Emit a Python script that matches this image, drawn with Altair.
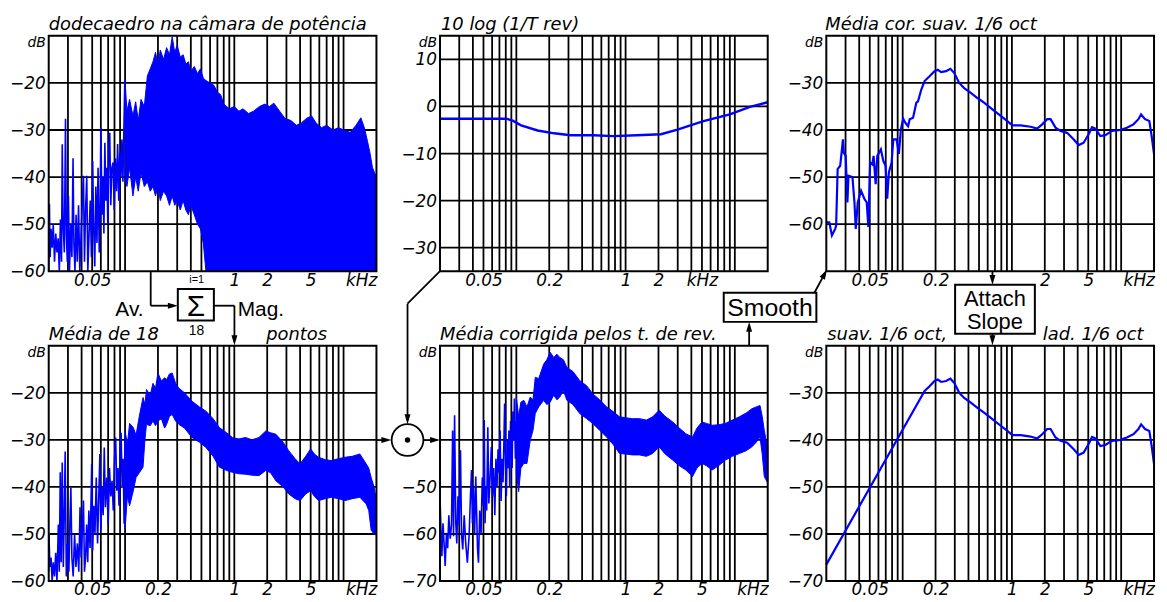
import math
import altair as alt
import pandas as pd

BLUE = "#0000ff"
BLACK = "#000000"
FONT = "DejaVu Sans"
DFONT = "Liberation Sans"
H = 237
W = 330
XMAX = 20.0
XMAX_WIDE = 20.0 * 10 ** (5 / 110)
LBL = 17

# ---------------- data (kHz, dB) ----------------
GRID_KHZ = [0.03, 0.04, 0.05, 0.06, 0.07, 0.08, 0.09, 0.1, 0.2, 0.3, 0.4, 0.5,
            0.6, 0.7, 0.8, 0.9, 1, 2, 3, 4, 5, 6, 7, 8, 9, 10]

# panel 1: dodecaedro na camara de potencia
P1_LOW_F = [0.0200, 0.0203, 0.0206, 0.0210, 0.0215, 0.0220, 0.0226, 0.0232, 0.0238, 0.0244,
            0.0250, 0.0256, 0.0262, 0.0266, 0.0271, 0.0278, 0.0285, 0.0290, 0.0296, 0.0303,
            0.0310, 0.0318, 0.0326, 0.0334, 0.0340, 0.0348, 0.0356, 0.0365, 0.0375, 0.0385,
            0.0396, 0.0408, 0.0416, 0.0425, 0.0435, 0.0446, 0.0456, 0.0468, 0.0480, 0.0492,
            0.0505, 0.0515, 0.0528, 0.0540, 0.0553, 0.0566, 0.0580, 0.0592, 0.0601, 0.0614,
            0.0627, 0.0640, 0.0653, 0.0667, 0.0681, 0.0695, 0.0710, 0.0724, 0.0740, 0.0757,
            0.0777, 0.0795, 0.0815, 0.0835, 0.0855, 0.0875, 0.0895, 0.0915, 0.0935, 0.0955,
            0.0975, 0.0995]
P1_LOW_DB = [-60, -45.7, -57, -51, -55, -50, -58, -52, -56, -53,
             -60, -49, -58, -33, -50, -56, -27.6, -52, -58, -44,
             -60, -50, -57, -36, -54, -60, -48, -58, -46, -60,
             -52, -44, -39.7, -58, -47, -39.7, -60, -52, -45, -57,
             -36.6, -50, -59, -42, -54, -38, -56, -46, -29.5, -48,
             -40, -52, -32.7, -45, -38, -50, -34, -30.6, -46, -38,
             -36.9, -47, -36, -43, -33, -45, -34.8, -40, -32, -41,
             -30, -19.3]
P1_BAND_F = [0.100, 0.104, 0.110, 0.118, 0.125, 0.132, 0.140, 0.150, 0.160, 0.170,
             0.180, 0.190, 0.200, 0.210, 0.225, 0.240, 0.255, 0.270, 0.285, 0.300,
             0.320, 0.340, 0.360, 0.380, 0.400, 0.430, 0.460, 0.490, 0.520, 0.550,
             0.600, 0.650, 0.700, 0.750, 0.800, 0.850, 0.900, 1.000, 1.100, 1.200,
             1.350, 1.500, 1.700, 1.900, 2.100, 2.300, 2.600, 2.900, 3.300, 3.700,
             4.100, 4.600, 5.100, 5.600, 6.300, 7.000, 8.000, 9.000, 10.00, 11.50,
             13.00, 14.40, 15.50, 16.60, 17.50, 18.40, 19.20, 20.00]
P1_BAND_HI = [-19.5, -26, -23.5, -27, -24, -28, -23.5, -25, -18.5, -17,
              -15.5, -13.5, -16, -13, -15, -12.5, -14, -10.2, -13.5, -12,
              -14.5, -14, -16, -15.5, -17.5, -16.5, -18, -17, -19, -19.5,
              -20, -20.5, -22, -22.5, -24.5, -25, -25.5, -25, -26, -25.5,
              -26.5, -26, -25, -24.5, -25, -24.3, -26, -27.5, -28, -29,
              -28.5, -27.5, -27, -28.5, -29.5, -29, -30, -29.5, -30, -30.5,
              -29, -27.4, -29.5, -32.5, -35, -38, -39, -40]
P1_BAND_LO = [-40, -42, -38, -44, -40, -43, -39, -42, -41, -43,
              -42, -44, -42, -45, -43, -44, -46, -44, -46, -45,
              -47, -45, -47, -48, -46, -48, -50, -51, -54, -60,
              -60, -60, -60, -60, -60, -60, -60, -60, -60, -60,
              -60, -60, -60, -60, -60, -60, -60, -60, -60, -60,
              -60, -60, -60, -60, -60, -60, -60, -60, -60, -60,
              -60, -60, -60, -60, -60, -60, -60, -60]

# panel 2: 10 log (1/T rev)
P2_F = [0.02, 0.0808, 0.0926, 0.1105, 0.1565, 0.2218, 0.3142, 0.5082, 0.7755,
        1.2659, 2.1064, 2.9822, 5.1626, 9.0, 13.75, 20.0]
P2_DB = [-2.6, -2.6, -3.0, -4.0, -5.1, -5.7, -6.1, -6.1, -6.3,
         -6.1, -5.9, -4.9, -3.1, -1.7, -0.1, 0.9]

# panel 3: media corrigida suavizada 1/6 oct
P3_F = [0.0203, 0.0213, 0.0225, 0.0241, 0.0246, 0.0254, 0.0268, 0.0278, 0.0284, 0.0289,
        0.0301, 0.0312, 0.0319, 0.0347, 0.0362, 0.0372, 0.0388, 0.0416, 0.0446, 0.0469,
        0.0485, 0.0503, 0.0527, 0.0542, 0.0566, 0.0586, 0.0632, 0.0664, 0.0697, 0.0722,
        0.0748, 0.0792, 0.0821, 0.0880, 0.0923, 0.0962, 0.1011, 0.1060, 0.1121, 0.1160,
        0.1245, 0.1334, 0.1382, 0.1481, 0.1588, 0.1763, 0.1957, 0.2098, 0.2250, 0.2497,
        0.2733, 0.2969, 0.3295, 0.3657, 0.4205, 0.4835, 0.5560, 0.6628, 0.7902, 0.9084,
        1.0085, 1.2012, 1.4826, 1.7046, 1.8941, 2.1047, 2.2596, 2.5089, 2.7856, 3.2025,
        3.6818, 4.0884, 4.5398, 5.0411, 5.4120, 5.8103, 6.4515, 7.1627, 8.2356, 9.8092,
        11.276, 12.963, 14.394, 15.221, 16.551, 18.115, 19.021, 20.0]
P3_DB = [-59.6, -59.6, -62.4, -61, -60.3, -48.3, -47.6, -44.1, -42, -44.8,
         -45.5, -55.4, -49.7, -50, -55.4, -61, -55.4, -52.9, -54.6, -55.4,
         -60.6, -46.9, -47.3, -45.5, -51.5, -45.5, -44.1, -46.5, -47.6, -54.6,
         -49, -46.9, -42, -42, -45.1, -39.9, -37.6, -38.5, -39.2, -37.7,
         -37.4, -34.2, -33.9, -31.4, -29.6, -28.6, -27.5, -27.2, -27.7, -27.5,
         -27, -27.9, -30, -31.1, -32.1, -33.2, -34.2, -35.6, -37, -38.1,
         -39, -39, -39.3, -39.7, -38.8, -37.7, -37.7, -39.5, -40.2, -40.6,
         -42, -43.2, -42.7, -40.9, -39.4, -39.7, -41.3, -41.1, -40.2, -40,
         -39.5, -38.8, -37.7, -36.7, -37.7, -38.1, -41.3, -45.1]

# panel 4: media de 18 pontos
P4_LOW_F = [0.0200, 0.0201, 0.0205, 0.0210, 0.0215, 0.0220, 0.0226, 0.0232, 0.0238, 0.0245,
            0.0250, 0.0255, 0.0260, 0.0266, 0.0272, 0.0278, 0.0283, 0.0290, 0.0298, 0.0306,
            0.0313, 0.0319, 0.0326, 0.0335, 0.0345, 0.0355, 0.0366, 0.0377, 0.0387, 0.0396,
            0.0405, 0.0416, 0.0425, 0.0435, 0.0445, 0.0455, 0.0466, 0.0478, 0.0490, 0.0495,
            0.0505, 0.0518, 0.0530, 0.0545, 0.0560, 0.0575, 0.0588, 0.0600, 0.0615, 0.0630,
            0.0645, 0.0660, 0.0680, 0.0700, 0.0720, 0.0740, 0.0760, 0.0780, 0.0800, 0.0820,
            0.0840, 0.0860, 0.0880, 0.0900, 0.0920, 0.0940, 0.0960, 0.0980, 0.1000]
P4_LOW_DB = [-58, -50, -57, -55, -60, -56, -59, -54, -60, -48,
             -58, -36.9, -56, -34.8, -57, -45, -32.5, -59, -52, -58,
             -47, -40.1, -55, -59, -50, -57, -52, -58, -44.3, -55,
             -50, -42.9, -58, -54.9, -48, -56, -45, -53, -41, -35.1,
             -53.5, -44, -50, -38, -52, -42, -33, -49.2, -40, -46,
             -31.6, -44.3, -38, -48, -36, -42, -38.7, -45, -34, -29.5,
             -40.8, -36, -44, -32, -28.5, -40, -34, -47.8, -30]
P4_BAND_F = [0.100, 0.105, 0.110, 0.119, 0.126, 0.135, 0.146, 0.152, 0.157, 0.170,
             0.180, 0.190, 0.200, 0.215, 0.230, 0.240, 0.255, 0.270, 0.290, 0.310,
             0.350, 0.410, 0.480, 0.550, 0.640, 0.730, 0.850, 0.960, 1.100, 1.270,
             1.450, 1.680, 1.940, 2.150, 2.400, 2.800, 3.150, 3.600, 4.000, 4.500,
             5.000, 5.400, 5.900, 6.800, 7.700, 9.000, 10.30, 12.00, 14.10, 16.10,
             17.00, 17.90, 19.00, 20.00]
P4_BAND_HI = [-28, -31, -26.5, -27.4, -29, -25, -21, -22.5, -19.3, -20.5,
              -18, -19, -15.8, -17.5, -16.8, -17.2, -16, -15.8, -18, -19,
              -20, -21.8, -23, -23.9, -25.5, -27.4, -28.5, -29.5, -29.8, -29.5,
              -30, -29.5, -28.1, -28.5, -28.8, -30.5, -32.3, -34, -35.1, -33.5,
              -31.9, -33, -33.7, -34.2, -34.4, -34, -33.7, -33.5, -33, -35.1,
              -36, -38, -40, -42.9]
P4_BAND_LO = [-49, -42, -44, -40.8, -38, -37, -35.8, -30, -26.7, -27,
              -26, -27, -26, -25.5, -27.5, -26.7, -25, -24.6, -26, -26.7,
              -27.5, -29.5, -30.5, -31.6, -33.5, -35.8, -36.5, -36.9, -37.2, -37.3,
              -37.5, -37.6, -36.5, -37, -38.7, -40, -41.5, -42.5, -42.9, -41.5,
              -40.8, -42, -42.9, -42.5, -42.2, -42.5, -42.9, -42.5, -42.2, -43.6,
              -45, -49.2, -50, -49.9]

# panel 5: media corrigida pelos t. de rev.
P5_LOW_F = [0.0200, 0.0204, 0.0208, 0.0213, 0.0218, 0.0223, 0.0229, 0.0235, 0.0241, 0.0248,
            0.0255, 0.0261, 0.0266, 0.0272, 0.0279, 0.0285, 0.0292, 0.0300, 0.0308, 0.0315,
            0.0323, 0.0333, 0.0344, 0.0356, 0.0370, 0.0380, 0.0389, 0.0396, 0.0405, 0.0415,
            0.0425, 0.0441, 0.0450, 0.0462, 0.0475, 0.0488, 0.0500, 0.0508, 0.0517, 0.0525,
            0.0535, 0.0548, 0.0560, 0.0575, 0.0590, 0.0605, 0.0620, 0.0635, 0.0650, 0.0665,
            0.0680, 0.0695, 0.0710, 0.0725, 0.0740, 0.0755, 0.0770, 0.0781, 0.0795, 0.0810,
            0.0825, 0.0840, 0.0855, 0.0870, 0.0885, 0.0900, 0.0915, 0.0930, 0.0945, 0.0960,
            0.0980, 0.1000]
P5_LOW_DB = [-52, -59, -64.7, -57.7, -62, -66.8, -60, -63, -56, -61,
             -58, -38, -60.5, -34.8, -57.7, -62, -52, -58, -42.2, -60,
             -63.3, -56, -62, -66.1, -60, -52, -46.4, -57.7, -50, -60,
             -47.8, -63, -66.1, -55, -60, -48, -54, -35.8, -57.7, -50,
             -55, -37.3, -53.5, -48, -41.5, -52, -46, -56, -44, -50,
             -42, -47, -38, -53, -44, -49, -40, -32.3, -45, -52,
             -40, -46, -38, -50, -36, -42, -46, -34, -40, -31.2,
             -44, -36]
P5_BAND_F = [0.100, 0.105, 0.110, 0.117, 0.125, 0.134, 0.142, 0.149, 0.160, 0.178,
             0.190, 0.204, 0.220, 0.235, 0.250, 0.270, 0.290, 0.330, 0.380, 0.440,
             0.500, 0.580, 0.670, 0.770, 0.880, 1.000, 1.150, 1.340, 1.550, 1.770,
             2.030, 2.300, 2.700, 3.100, 3.560, 4.100, 4.500, 5.000, 5.500, 6.200,
             7.100, 8.200, 9.500, 11.00, 12.70, 14.30, 15.70, 17.00, 17.80, 18.60,
             19.30, 20.00]
P5_BAND_HI = [-31, -35, -32, -31.6, -33, -30.9, -31.5, -26.7, -27, -23.9,
              -23, -21.4, -22.5, -21.8, -22.5, -23, -24.6, -25.5, -27.4, -28.5,
              -30.2, -31.5, -33, -34, -35.1, -35.3, -35.5, -35.5, -35.8, -35.1,
              -33.7, -35, -36.2, -37.5, -38.7, -39.4, -37.5, -36.2, -36.5, -36.9,
              -36.8, -36.5, -35.8, -35.1, -34.3, -33.4, -33, -32.7, -35, -38,
              -40, -41.5]
P5_BAND_LO = [-47, -51, -46, -45, -45, -40.1, -38, -34.4, -33, -31.6,
              -32.5, -32, -30.5, -31.5, -30.9, -29.5, -31.6, -32.5, -34.4, -35.5,
              -36.5, -38, -39.4, -41, -42.9, -43, -43.2, -43.2, -43.5, -42.9,
              -41.5, -43, -44.3, -45.5, -46.4, -47.8, -46, -45, -45.5, -46.4,
              -45.5, -44.3, -43.5, -42.9, -42.3, -41.5, -40.5, -39.4, -43, -47.8,
              -48.5, -49.2]

# panel 6: attached slope + smoothed curve
P6_SLOPE_F = [0.02, 0.1588]
P6_SLOPE_DB = [-66.5, -29.6]

ONE = pd.DataFrame({"k": [0]})


def table(**cols):
    n = min(len(v) for v in cols.values())
    return pd.DataFrame({k: list(v)[:n] for k, v in cols.items()})


def dbtxt(v):
    return ("\u2212" + str(abs(v))) if v < 0 else str(v)


def text(t, x, y, size, font=FONT, style="normal", align="left", baseline="alphabetic", color=BLACK):
    return alt.Chart(ONE).mark_text(
        text=t, font=font, fontSize=size, fontStyle=style, align=align,
        baseline=baseline, color=color
    ).encode(x=alt.value(x), y=alt.value(y))


def seg(x1, y1, x2, y2, color=BLACK, sw=1.8):
    return alt.Chart(ONE).mark_rule(color=color, strokeWidth=sw).encode(
        x=alt.value(x1), y=alt.value(y1), x2=alt.value(x2), y2=alt.value(y2))


def head(tx, ty, ang, L=5):
    a = math.radians(ang)
    cx = tx - L * math.sin(a)
    cy = ty + L * math.cos(a)
    return alt.Chart(ONE).mark_point(
        shape="M0,-1L-0.6,1L0.6,1Z", filled=True, color=BLACK, opacity=1,
        size=(2 * L) ** 2, angle=ang
    ).encode(x=alt.value(cx), y=alt.value(cy))


def box(x1, y1, x2, y2):
    return alt.Chart(ONE).mark_rect(fill="white", stroke=BLACK, strokeWidth=2).encode(
        x=alt.value(x1), x2=alt.value(x2), y=alt.value(y1), y2=alt.value(y2))


def panel(width, xmax, ydom, ylabels, hgrid, xlabels, khz_at, titles, data_fn, extra=None):
    xs = alt.Scale(type="log", domain=[0.02, xmax], nice=False)
    ys = alt.Scale(domain=ydom, nice=False, zero=False)
    xaxis = alt.Axis(
        values=xlabels, title=None, ticks=False, domain=False, grid=False,
        labelExpr="datum.value == %s ? 'kHz' : '' + datum.value" % repr(khz_at),
        labelFont=FONT, labelFontSize=LBL, labelFontStyle="italic", labelColor=BLACK,
        labelPadding=1, labelOverlap=False, labelFlush=False,
    )
    X = lambda fld: alt.X(fld, type="quantitative", scale=xs, axis=xaxis)
    Y = lambda fld: alt.Y(fld, type="quantitative", scale=ys, axis=None)
    vg = alt.Chart(pd.DataFrame({"f": GRID_KHZ})).mark_rule(color=BLACK, strokeWidth=1.8).encode(
        x=X("f"), y=alt.value(0), y2=alt.value(H))
    hg = alt.Chart(pd.DataFrame({"v": hgrid})).mark_rule(color=BLACK, strokeWidth=1.8).encode(
        y=Y("v"), x=alt.value(0), x2=alt.value(W))
    ylab = alt.Chart(table(v=ylabels, t=[dbtxt(v) for v in ylabels])).mark_text(
        align="right", baseline="middle", dx=-3, dy=1, font=FONT, fontSize=LBL,
        fontStyle="italic", color=BLACK).encode(y=Y("v"), x=alt.value(0), text="t:N")
    layers = [vg, hg] + data_fn(X, Y)
    layers.append(alt.Chart(ONE).mark_rect(fillOpacity=0, stroke=BLACK, strokeWidth=2).encode(
        x=alt.value(0), x2=alt.value(W), y=alt.value(0), y2=alt.value(H)))
    layers.append(ylab)
    layers.append(text("dB", -3, 11, 14, style="italic", align="right"))
    for t, x in titles:
        layers.append(text(t, x, -6, 18, style="italic"))
    if extra:
        layers += extra
    return alt.layer(*layers).properties(width=width, height=H)


def line(f, v, sw):
    def fn(X, Y):
        return [alt.Chart(table(f=f, v=v)).mark_line(color=BLUE, strokeWidth=sw).encode(
            x=X("f"), y=Y("v"))]
    return fn


def noisy(lf, lv, bf, bhi, blo):
    def fn(X, Y):
        a = alt.Chart(table(f=bf, hi=bhi, lo=blo)).mark_area(
            color=BLUE, opacity=1, stroke=BLUE, strokeWidth=1).encode(
            x=X("f"), y=Y("hi"), y2="lo")
        l = alt.Chart(table(f=lf, hi=lv)).mark_line(color=BLUE, strokeWidth=1.6).encode(
            x=X("f"), y=Y("hi"))
        return [l, a]
    return fn


# ---------------- flow diagram (pixel positions relative to panel 1) ----------------
diagram = [
    seg(-39.5, -24.5, -39.5, -20, color="white", sw=1),
    # sum block
    seg(102.7, 237, 102.7, 271.7), seg(102.7, 271.7, 126, 271.7), head(130, 271.7, 90),
    box(130, 255, 166.3, 286.7),
    text("\u03a3", 148.2, 282, 30, font=DFONT, align="center"),
    text("i=1", 149, 248.5, 11, font=DFONT, align="center"),
    text("18", 148.7, 301.5, 14, font=DFONT, align="center"),
    text("Av.", 95.5, 282, 21, font=DFONT, align="right"),
    seg(166.3, 271.7, 187, 271.7), seg(187, 271.7, 187, 306), head(187, 311.5, 180),
    text("Mag.", 190.3, 282, 21, font=DFONT),
    # multiplication node
    seg(330, 407, 340, 407), head(345, 407, 90),
    seg(377.3, 407, 389, 407), head(394, 407, 90),
    seg(394, 237, 361.3, 269.7), seg(361.3, 269.7, 361.3, 386), head(361.3, 391, 180),
    alt.Chart(ONE).mark_point(shape="circle", filled=False, color=BLACK, opacity=1,
                              size=1024, strokeWidth=1.8).encode(x=alt.value(361.3), y=alt.value(407)),
    alt.Chart(ONE).mark_point(shape="circle", filled=True, color=BLACK, opacity=1,
                              size=30).encode(x=alt.value(361.3), y=alt.value(407)),
    # smooth
    seg(705.3, 311.5, 705.3, 293), head(705.3, 288, 0),
    box(679.7, 258.7, 773, 288),
    text("Smooth", 726.3, 282, 25, font=DFONT, align="center"),
    seg(771, 258.7, 781.3, 239.7), head(783.7, 235.3, 28.5),
    # attach slope
    seg(950.3, 237, 950.3, 245.7), head(950.3, 250.7, 180),
    box(912.7, 250.7, 993, 300),
    text("Attach", 952.8, 272.5, 22, font=DFONT, align="center"),
    text("Slope", 952.8, 295.5, 22, font=DFONT, align="center"),
    seg(950.3, 300, 950.3, 306.5), head(950.3, 311.5, 180),
]

P6_F = P6_SLOPE_F + [f for f in P3_F if f > 0.1588]
P6_DB = P6_SLOPE_DB + [v for f, v in zip(P3_F, P3_DB) if f > 0.1588]

p1 = panel(335, XMAX_WIDE, [-60, -10], [-20, -30, -40, -50, -60], [-20, -30, -40, -50],
           [0.05, 1, 2, 5, 14.5], 14.5, [("dodecaedro na câmara de potência", 0)],
           noisy(P1_LOW_F, P1_LOW_DB, P1_BAND_F, P1_BAND_HI, P1_BAND_LO), extra=diagram)
p2 = panel(W, XMAX, [-35, 15], [10, 0, -10, -20, -30], [10, 0, -10, -20, -30],
           [0.05, 0.2, 1, 2, 5], 5, [("10 log (1/T rev)", 1)], line(P2_F, P2_DB, 2.4))
p3 = panel(W, XMAX, [-70, -20], [-30, -40, -50, -60], [-30, -40, -50, -60],
           [0.05, 0.2, 2, 5, 14.5], 14.5, [("Média cor. suav. 1/6 oct", -1)], line(P3_F, P3_DB, 2.2))
p4 = panel(335, XMAX_WIDE, [-60, -10], [-20, -30, -40, -50, -60], [-20, -30, -40, -50],
           [0.05, 0.2, 1, 2, 5, 14.5], 14.5, [("Média de 18", 0), ("pontos", 219)],
           noisy(P4_LOW_F, P4_LOW_DB, P4_BAND_F, P4_BAND_HI, P4_BAND_LO))
p5 = panel(W, XMAX, [-70, -20], [-50, -60, -70], [-30, -40, -50, -60],
           [0.05, 0.2, 1, 2, 5, 14.5], 14.5, [("Média corrigida pelos t. de rev.", 0)],
           noisy(P5_LOW_F, P5_LOW_DB, P5_BAND_F, P5_BAND_HI, P5_BAND_LO))
p6 = panel(W, XMAX, [-70, -20], [-30, -40, -50, -60, -70], [-30, -40, -50, -60],
           [0.05, 0.2, 1, 2, 5, 14.5], 14.5, [("suav. 1/6 oct,", 1), ("lad. 1/6 oct", 218)],
           line(P6_F, P6_DB, 2.2))

chart = alt.concat(p1, p2, p3, p4, p5, p6, columns=3,
                   spacing={"row": 75, "column": 59}, bounds="flush").properties(
    padding=0
).configure_view(stroke="transparent")

chart.save("out.html", embed_options={"renderer": "svg", "actions": False})
